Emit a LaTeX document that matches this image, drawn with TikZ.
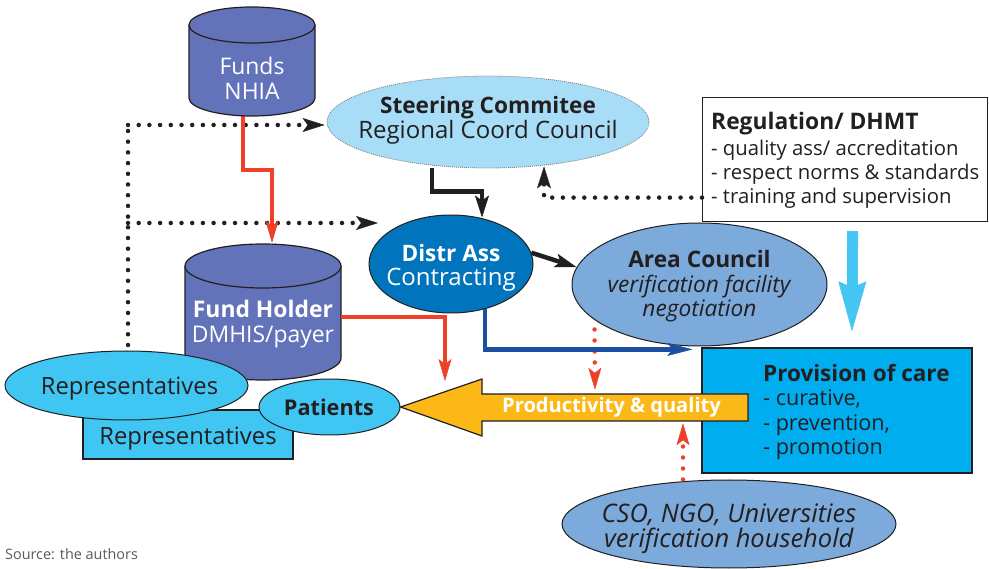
\documentclass[tikz,border=0pt]{standalone}
\usepackage{fontspec}
\setmainfont{Open Sans}
\usetikzlibrary{shapes.geometric,arrows.meta,calc}

\definecolor{ink}{HTML}{231F20}
\definecolor{cylfill}{HTML}{6373B9}
\definecolor{steerfill}{HTML}{A8DDF7}
\definecolor{dafill}{HTML}{0074BD}
\definecolor{acfill}{HTML}{7BAADB}
\definecolor{provfill}{HTML}{00AEEF}
\definecolor{repfill}{HTML}{40C6F2}
\definecolor{pqfill}{HTML}{FBB817}
\definecolor{flowred}{HTML}{EE4127}
\definecolor{flowblue}{HTML}{1D4FA0}
\definecolor{reglink}{HTML}{44C5F2}
\definecolor{srcgray}{HTML}{58595B}

% font size with a fixed line pitch
\newcommand\setfs[1]{\fontsize{#1}{24.5}\selectfont}

\tikzset{
  headK/.tip={Stealth[length=22pt,width=14pt,inset=5pt,line width=0.5pt]},
  headR/.tip={Stealth[length=22pt,width=13pt,inset=5pt,line width=0.5pt]},
  headB/.tip={Stealth[length=25pt,width=13pt,inset=5pt,line width=0.5pt]},
  headL/.tip={Stealth[length=50pt,width=28pt,inset=6pt,line width=0.5pt]},
}

\begin{document}
\begin{tikzpicture}[x=1pt,y=-1pt,
  txt/.style={font=\setfs{24}, align=center, text=ink, inner sep=0pt},
  ell/.style={ellipse, draw=ink, line width=1pt, inner sep=0pt},
  box/.style={rectangle, draw=ink, line width=1.2pt, inner sep=0pt},
  dotline/.style={ink, line width=4.5pt, line cap=round, dash pattern=on 0pt off 10.7pt},
  reddots/.style={flowred, line width=4.5pt, line cap=round, dash pattern=on 0pt off 11pt},
  redflow/.style={flowred, line width=4.5pt},
  blackflow/.style={ink, line width=4.5pt},
  cylbody/.style={fill=cylfill, draw=ink, line width=1.2pt},
]
\useasboundingbox (0,0) rectangle (989,569);

% ---------- reference frames for the two fund cylinders ----------
\node[minimum width=126pt, minimum height=91pt, inner sep=0pt] (nhia) at (252,70.5) {};
\node[minimum width=156pt, minimum height=136pt, inner sep=0pt] (fh) at (263,312) {};

% ---------- nodes that anchor the dotted links ----------
\node[ell, fill=steerfill, draw=gray, densely dotted, line width=0.8pt,
      minimum width=322pt, minimum height=92pt] (steer) at (488,122) {};
\node[txt] (steertxt) at (488,120.5) {{\setfs{22.6}\bfseries Steering Commitee}\\Regional Coord Council};
\node[ell, fill=dafill, minimum width=164pt, minimum height=98pt] (da) at (451,264) {};
\node[txt, text=white] (datxt) at (451,268) {{\setfs{22.6}\bfseries Distr Ass}\\Contracting};

% ---------- representatives / patients group ----------
\node[box, fill=repfill, minimum width=210pt, minimum height=49pt] (reprect) at (188,434.5) {};
\node[txt, font=\setfs{23.8}] (reprecttxt) at (188,439) {Representatives};

% dotted links from the representatives
\coordinate (d2) at (378,223);
\coordinate (j2) at (128,223);
\draw[dotline] (128,345) -- (128,125);
\draw[dotline, -{headK}] (128,125) -- ($(steer.west)+(-2,3)$);
\draw[dotline, -{headK}] (j2) -- (d2);

% ---------- money flow: funds to fund holder ----------
\draw[redflow, -{headR}] ([xshift=-9pt]nhia.south) -- ++(0,54) -| ($(fh.north)+(9,-1)$);

% Funds NHIA cylinder
\fill[cylfill] (189,25) -- (189,98) arc[start angle=180,end angle=0,x radius=63,y radius=18] -- (315,25) -- cycle;
\draw[ink, line width=1.2pt] (189,25) -- (189,98) arc[start angle=180,end angle=0,x radius=63,y radius=18] -- (315,25);
\draw[cylbody] (252,25) ellipse[x radius=63, y radius=18];
\node[txt, text=white, font=\setfs{22.9}] (nhiatxt) at (252,78.5) {Funds\\NHIA};

% Fund Holder cylinder
\fill[cylfill] (185,266) -- (185,358) arc[start angle=180,end angle=0,x radius=78,y radius=22] -- (341,266) -- cycle;
\draw[ink, line width=1.2pt] (185,266) -- (185,358) arc[start angle=180,end angle=0,x radius=78,y radius=22] -- (341,266);
\draw[cylbody] (263,266) ellipse[x radius=78, y radius=22];
\node[txt, text=white, font=\setfs{22.9}] (fhtxt) at (263,324) {\textbf{Fund Holder}\\DMHIS/payer};

\node[ell, fill=repfill, minimum width=243pt, minimum height=69pt] (rep) at (126.5,385.5) {};
\node[txt, font=\setfs{23.8}] (reptxt) at (129.5,389) {Representatives};
\node[ell, fill=repfill, minimum width=141pt, minimum height=56pt] (pat) at (329.5,407) {};
\node[txt, font=\setfs{21.7}] (pattxt) at (329,407.5) {\textbf{Patients}};

% ---------- regulation, councils, provision ----------
\node[ell, fill=acfill, minimum width=255pt, minimum height=123pt] (ac) at (699.5,284.5) {};
\node[txt, font=\setfs{22.7}] (actxt) at (699.5,286.5)
      {\textbf{Area Council}\\\textit{verification facility}\\\textit{negotiation}};

\node[box, fill=white, anchor=north west, minimum width=285pt, minimum height=124pt] (reg) at (702,97) {};
\node[anchor=west, align=left, inner sep=0pt, text=ink, font=\fontsize{20.3}{24}\selectfont]
      (regtxt) at (711,160)
      {{\fontsize{22.8}{24}\selectfont\bfseries Regulation/ DHMT}\\[2pt]- quality ass/ accreditation\\- respect norms \& standards\\- training and supervision};

\node[box, fill=provfill, minimum width=270pt, minimum height=125pt] (prov) at (837,410.5) {};
\node[anchor=west, align=left, font=\fontsize{21.6}{24.3}\selectfont, inner sep=0pt, text=ink]
      (provtxt) at (763,412) {{\fontsize{22.5}{24.3}\selectfont\bfseries Provision of care}\\- curative,\\- prevention,\\- promotion};

\node[ell, fill=acfill, minimum width=334pt, minimum height=88pt] (cso) at (729,524) {};
\node[txt, font=\fontsize{25.5}{25}\selectfont] (csotxt) at (729,528.5)
      {\textit{CSO, NGO, Universities}\\\textit{verification household}};

% ---------- productivity & quality arrow ----------
\node[minimum width=266pt, minimum height=27pt, inner sep=0pt] (pq) at (615,407.5) {};
\draw[fill=pqfill, draw=ink, line width=1.2pt, line join=miter]
  (pat.east) -- (482,379) -- (482,394) -- (748,394) -- (748,421) -- (482,421) -- (482,436) -- cycle;
\node[font=\bfseries\fontsize{20.1}{22}\selectfont, text=white, inner sep=0pt] (pqtxt) at (611.5,407) {Productivity \& quality};

% ---------- remaining connectors ----------
\draw[blackflow, -{headK}] ($(steer.south)+(-56,0)$) -- ++(0,23) -| ($(da.north)+(31,3)$);
\draw[blackflow, -{headK}] (da.8) -- (ac.172);
\draw[dotline, -{headK}] ($(reg.west)+(0,38)$) -| ($(steer.south)+(56,-2)$);
\draw[reglink, line width=11pt, -{headL}] ($(reg.south)+(7.5,9)$) -- ($(prov.north)+(15,-16)$);

\coordinate (payin) at (445,381);
\draw[redflow, -{headR}] ($(fh.east)+(0,5)$) -| (payin);

\draw[reddots, -{headR}] ($(ac.south)+(-105,-17)$) -- ($(pq.north)+(-20,-4)$);
\draw[reddots, -{headR}] ($(cso.north)+(-46,0)$) -- ($(pq.south)+(68,2)$);

\draw[flowblue, line width=4.5pt, -{headB}] ($(da.south)+(34,-4)$) |- ($(prov.north west)+(-9,2)$);

% ---------- source line ----------
\node[anchor=west, inner sep=0pt, font=\fontsize{14.4}{16}\selectfont, text=srcgray] (src) at (5,554) {Source: the authors};
\end{tikzpicture}
\end{document}
